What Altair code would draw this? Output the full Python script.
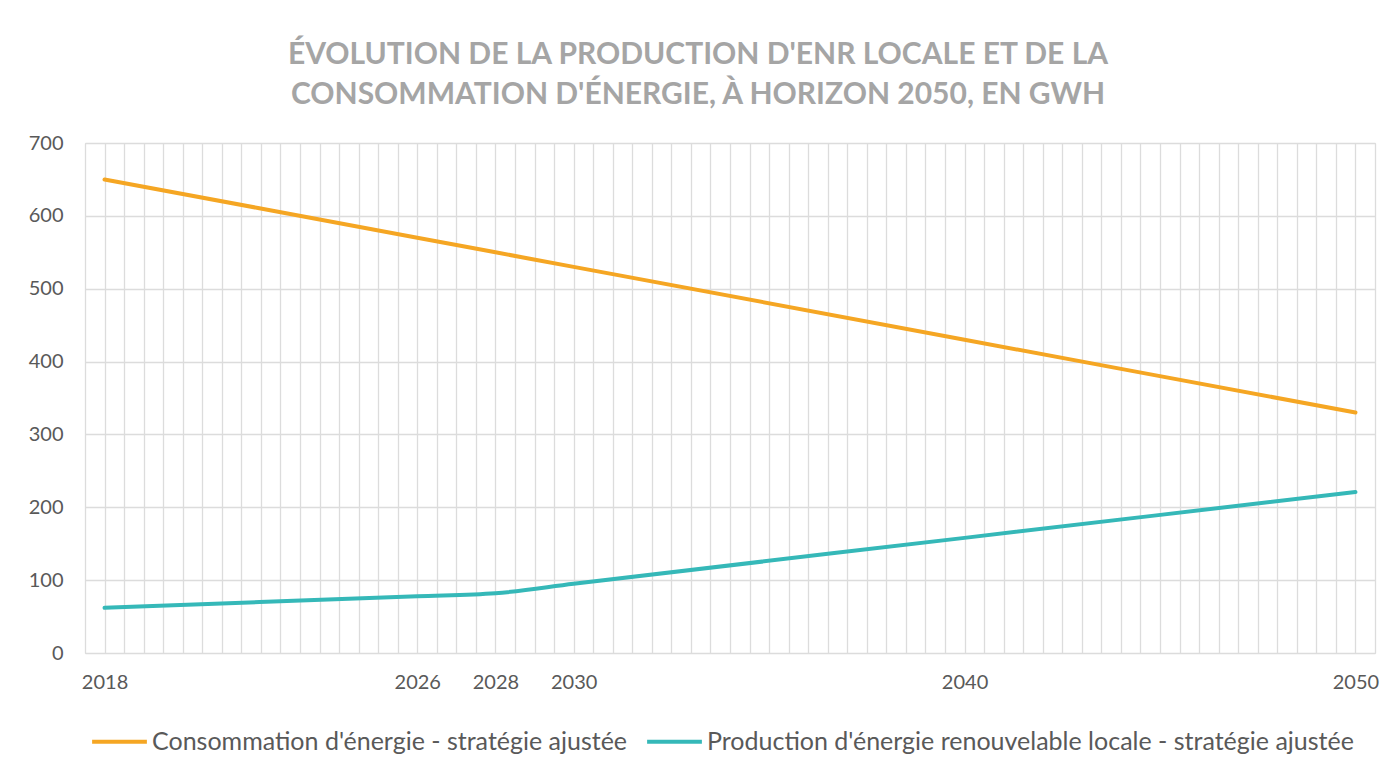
import altair as alt
import pandas as pd

years = [2018, 2026, 2028, 2030, 2040, 2050]
consommation = [650, 570, 550, 530, 430, 330]
production = [62, 78, 82, 95, 158, 221]
series_names = [
    "Consommation d'énergie - stratégie ajustée",
    "Production d'énergie renouvelable locale - stratégie ajustée",
]
series_colors = ["#F5A623", "#35B8B8"]
label_years = [2018, 2026, 2028, 2030, 2040, 2050]
y_ticks = [0, 100, 200, 300, 400, 500, 600, 700]

rows = []
for y, v in zip(years, consommation):
    rows.append({"Année": y, "GWh": v, "Série": series_names[0]})
for y, v in zip(years, production):
    rows.append({"Année": y, "GWh": v, "Série": series_names[1]})
df = pd.DataFrame(rows)

half_years = [2017.5 + 0.5 * i for i in range(67)]
label_expr = "indexof([" + ",".join(str(v) for v in label_years) + "], datum.value) >= 0 ? format(datum.value, 'd') : ''"

lines = alt.Chart(df).mark_line(strokeWidth=4, strokeCap="round", interpolate="monotone").encode(
    x=alt.X("Année:Q",
            scale=alt.Scale(domain=[2017.5, 2050.5], nice=False, zero=False),
            axis=alt.Axis(values=half_years, labelExpr=label_expr, title=None,
                          ticks=False, domain=False, labelOverlap=False,
                          labelPadding=19, labelFontSize=20, labelColor="#595959",
                          labelFont="Lato",
                          gridColor="#dcdcdc", gridWidth=1.3)),
    y=alt.Y("GWh:Q",
            scale=alt.Scale(domain=[0, 700], nice=False),
            axis=alt.Axis(values=y_ticks, title=None, ticks=False, domain=False,
                          labelPadding=22, labelFontSize=20, labelColor="#595959",
                          labelFont="Lato",
                          gridColor="#dcdcdc", gridWidth=1.3)),
    color=alt.Color("Série:N",
                    scale=alt.Scale(domain=series_names, range=series_colors),
                    legend=alt.Legend(title=None, orient="none", direction="horizontal",
                                      legendX=5, legendY=569,
                                      symbolType="stroke", symbolSize=3000,
                                      symbolStrokeWidth=4, labelFontSize=25,
                                      labelFont="Lato",
                                      labelColor="#595959", labelOffset=3,
                                      columnPadding=11, labelLimit=900)),
)

chart = lines.properties(
    width=1290,
    height=510,
    title=alt.TitleParams(
        text=["ÉVOLUTION DE LA PRODUCTION D'ENR LOCALE ET DE LA",
              "CONSOMMATION D'ÉNERGIE, À HORIZON 2050, EN GWH"],
        font="Lato", fontSize=30, fontWeight="bold", color="#a5a5a5",
        anchor="middle", dx=-32, offset=23, lineHeight=40,
    ),
    autosize=alt.AutoSizeParams(type="none"),
    padding={"left": 77, "top": 135, "right": 14, "bottom": 115},
).configure_view(
    fill="#efefef", stroke="#d9d9d9", strokeWidth=1.5
).configure(background="white")

chart.save("out.html", embed_options={"renderer": "svg", "actions": False})
